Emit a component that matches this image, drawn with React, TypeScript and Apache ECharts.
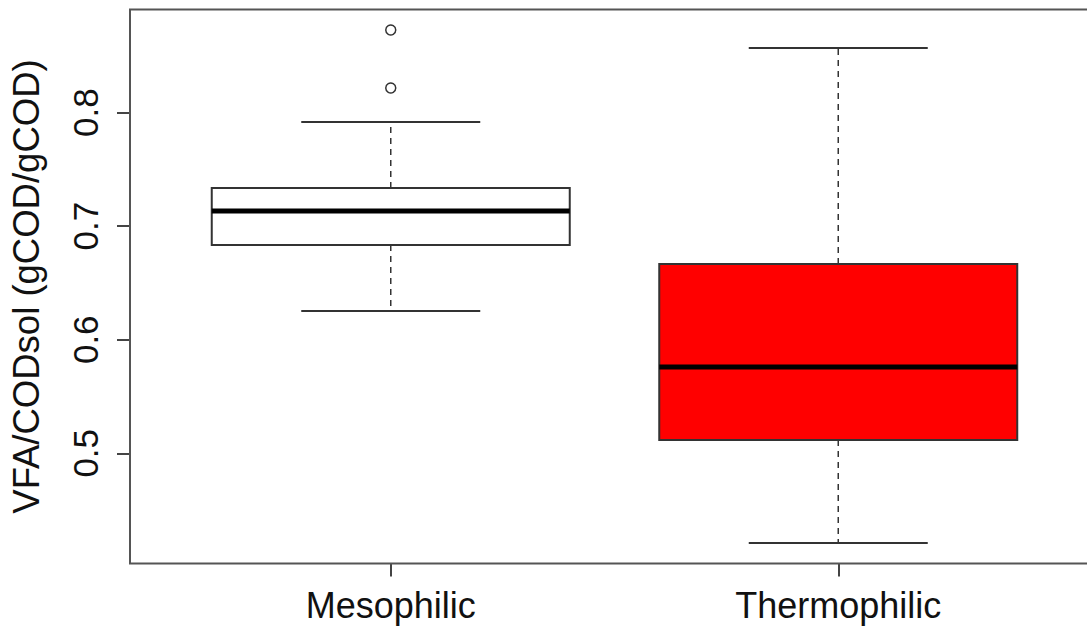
import React, { useEffect, useRef } from "react";
import * as echarts from "echarts";

const categories = ["Mesophilic", "Thermophilic"];
const whiskerLow = [0.6253, 0.421];
const q1 = [0.6835, 0.5117];
const medians = [0.7134, 0.576];
const q3 = [0.7337, 0.6667];
const whiskerHigh = [0.7918, 0.857];
const boxFills = ["#ffffff", "#ff0000"];
const outlierCat = [0, 0];
const outlierVals = [0.8728, 0.8218];
const yTicks = [0.5, 0.6, 0.7, 0.8];
const yMin = 0.4029;
const yMax = 0.8909;
const yTitle = "VFA/CODsol (gCOD/gCOD)";

const FONT = "'Liberation Sans', Arial, sans-serif";

export default function App() {
  const ref = useRef<HTMLDivElement>(null);
  useEffect(() => {
    document.body.style.margin = "0";
    const chart = echarts.init(ref.current!, undefined, { renderer: "svg" });
    const boxData = categories.map((_, i) => [
      i,
      whiskerLow[i],
      q1[i],
      medians[i],
      q3[i],
      whiskerHigh[i],
    ]);
    const outData = outlierVals.map((v, i) => [outlierCat[i], v]);
    const lineColor = "#333";
    chart.setOption({
      animation: false,
      backgroundColor: "#ffffff",
      grid: { left: 166, width: 896, top: 9.5, height: 554 },
      xAxis: {
        type: "category",
        data: categories,
        axisLine: { show: false },
        axisTick: {
          show: true,
          alignWithLabel: true,
          length: 13,
          lineStyle: { color: "#444", width: 2 },
        },
        axisLabel: {
          fontSize: 36,
          fontFamily: FONT,
          color: "#111",
          margin: 24,
        },
        splitLine: { show: false },
      },
      yAxis: {
        type: "value",
        min: yMin,
        max: yMax,
        offset: 36,
        name: yTitle,
        nameLocation: "middle",
        nameRotate: 90,
        nameGap: 86,
        nameTextStyle: { fontSize: 36.5, fontFamily: FONT, color: "#111" },
        axisLine: { show: false },
        splitLine: { show: false },
        axisTick: {
          show: true,
          length: 14,
          customValues: yTicks,
          lineStyle: { color: "#444", width: 2 },
        },
        axisLabel: {
          rotate: 90,
          fontSize: 35,
          fontFamily: FONT,
          color: "#111",
          margin: 28,
          customValues: yTicks,
          formatter: (v: number) => v.toFixed(1),
        },
      },
      graphic: [
        {
          type: "rect",
          shape: { x: 130, y: 9.5, width: 968, height: 554 },
          style: { fill: "none", stroke: "#555", lineWidth: 2 },
          z: 100,
        },
      ],
      series: [
        {
          type: "custom",
          data: boxData,
          encode: { x: 0, y: [1, 2, 3, 4, 5] },
          renderItem: (params: any, api: any) => {
            const c = api.value(0);
            const pLow = api.coord([c, api.value(1)]);
            const pQ1 = api.coord([c, api.value(2)]);
            const pMed = api.coord([c, api.value(3)]);
            const pQ3 = api.coord([c, api.value(4)]);
            const pHigh = api.coord([c, api.value(5)]);
            const band = api.size([1, 0])[0];
            const half = band * 0.4;
            const cap = band * 0.2;
            const x = pMed[0];
            const dash = { stroke: lineColor, lineWidth: 1.5, lineDash: [6, 5] };
            const solid = { stroke: lineColor, lineWidth: 2 };
            return {
              type: "group",
              children: [
                { type: "line", shape: { x1: x, y1: pQ3[1], x2: x, y2: pHigh[1] }, style: dash },
                { type: "line", shape: { x1: x, y1: pQ1[1], x2: x, y2: pLow[1] }, style: dash },
                { type: "line", shape: { x1: x - cap, y1: pHigh[1], x2: x + cap, y2: pHigh[1] }, style: solid },
                { type: "line", shape: { x1: x - cap, y1: pLow[1], x2: x + cap, y2: pLow[1] }, style: solid },
                {
                  type: "rect",
                  shape: { x: x - half, y: pQ3[1], width: half * 2, height: pQ1[1] - pQ3[1] },
                  style: { fill: boxFills[params.dataIndex], stroke: lineColor, lineWidth: 2 },
                },
                { type: "line", shape: { x1: x - half, y1: pMed[1], x2: x + half, y2: pMed[1] }, style: { stroke: "#000", lineWidth: 5 } },
              ],
            };
          },
        },
        {
          type: "scatter",
          data: outData,
          symbol: "circle",
          symbolSize: 10,
          itemStyle: { color: "#ffffff", borderColor: lineColor, borderWidth: 1.5, opacity: 1 },
        },
      ],
    });
    return () => chart.dispose();
  }, []);
  return <div ref={ref} style={{ width: 1087, height: 628 }} />;
}
